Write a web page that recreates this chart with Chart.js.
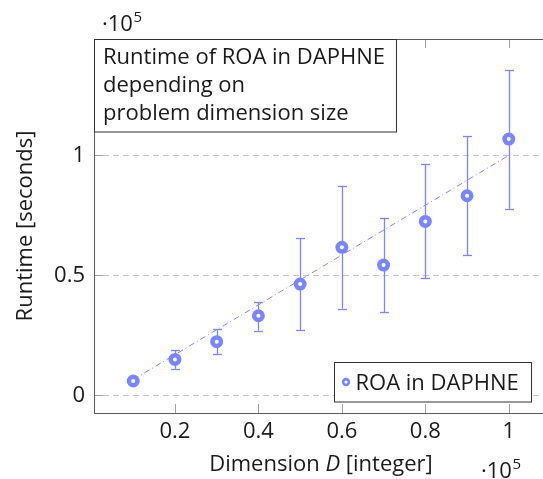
<!DOCTYPE html>
<html><head><meta charset="utf-8">
<script src="https://cdn.jsdelivr.net/npm/chart.js@4"></script>
<style>html,body{margin:0;padding:0;overflow:hidden;background:#fff;width:543px;height:479px}canvas{display:block}</style>
</head><body>
<canvas id="c" width="560" height="479"></canvas>
<script>
// ---- data (x in integer dimension, y in seconds) ----
const dimensions   = [10000, 20000, 30000, 40000, 50000, 60000, 70000, 80000, 90000, 100000];
const runtime      = [6000, 15000, 22400, 33200, 46400, 61700, 54300, 72500, 83200, 106800];
const runtimeLow   = [5500, 11100, 17250, 27000, 27200, 36200, 34700, 48750, 58500, 77800];
const runtimeHigh  = [6500, 18750, 27500, 38900, 65600, 87400, 74000, 96250, 107900, 135600];
const fitX = [10000, 100000];
const fitY = [6600, 100000];
const xTicks = [20000, 40000, 60000, 80000, 100000];
const yTicks = [0, 50000, 100000];
const seriesLabel = "ROA in DAPHNE";
const titleLines = ["Runtime of ROA in DAPHNE", "depending on", "problem dimension size"];
const xTitleParts = [["Dimension ", "normal"], ["D", "italic"], [" [integer]", "normal"]];
const yTitle = "Runtime [seconds]";

const BLUE = "rgb(122,134,255)";
const FONT = "'Open Sans'";
const FS = 22;

const deco = {
  id: "deco",
  beforeDatasetsDraw(chart) {
    const {ctx, chartArea: a, scales: {x, y}} = chart;
    ctx.save();
    ctx.lineWidth = 1;
    // dashed y grid
    ctx.strokeStyle = "#c4c4c4";
    ctx.setLineDash([6, 4]);
    yTicks.forEach(v => {
      const py = Math.round(y.getPixelForValue(v)) + 0.5;
      ctx.beginPath(); ctx.moveTo(a.left + 9, py); ctx.lineTo(a.right, py); ctx.stroke();
    });
    ctx.setLineDash([]);
    // tick marks
    ctx.strokeStyle = "#a0a0a0";
    yTicks.forEach(v => {
      const py = Math.round(y.getPixelForValue(v)) + 0.5;
      ctx.beginPath(); ctx.moveTo(a.left, py); ctx.lineTo(a.left + 9, py); ctx.stroke();
    });
    xTicks.forEach(v => {
      const px = Math.round(x.getPixelForValue(v)) + 0.5;
      ctx.beginPath(); ctx.moveTo(px, a.bottom); ctx.lineTo(px, a.bottom - 9); ctx.stroke();
      ctx.beginPath(); ctx.moveTo(px, a.top); ctx.lineTo(px, a.top + 9); ctx.stroke();
    });
    // frame
    ctx.strokeStyle = "#5a5a5a";
    ctx.strokeRect(a.left + 0.5, a.top + 0.5, a.right - a.left, a.bottom - a.top);
    // error bars
    ctx.strokeStyle = BLUE;
    ctx.lineWidth = 1.3;
    dimensions.forEach((d, i) => {
      const px = Math.round(x.getPixelForValue(d)) + 0.5;
      const yl = y.getPixelForValue(runtimeLow[i]);
      const yh = y.getPixelForValue(runtimeHigh[i]);
      ctx.beginPath(); ctx.moveTo(px, yl); ctx.lineTo(px, yh); ctx.stroke();
      ctx.beginPath(); ctx.moveTo(px - 4.5, Math.round(yl) + 0.5); ctx.lineTo(px + 4.5, Math.round(yl) + 0.5); ctx.stroke();
      ctx.beginPath(); ctx.moveTo(px - 4.5, Math.round(yh) + 0.5); ctx.lineTo(px + 4.5, Math.round(yh) + 0.5); ctx.stroke();
    });
    ctx.restore();
  },
  afterDraw(chart) {
    const {ctx, chartArea: a} = chart;
    ctx.save();
    ctx.textBaseline = "alphabetic";
    // title box
    ctx.fillStyle = "#fff";
    ctx.fillRect(a.left + 0.5, a.top + 0.5, 302, 92.5);
    ctx.strokeStyle = "#333"; ctx.lineWidth = 1;
    ctx.strokeRect(a.left + 0.5, a.top + 0.5, 302, 92.5);
    ctx.fillStyle = "#1a1a1a";
    ctx.font = FS + "px " + FONT;
    titleLines.forEach((t, i) => ctx.fillText(t, a.left + 9, 63.5 + i * 28.3));
    // legend box
    ctx.fillStyle = "#fff";
    ctx.fillRect(334.5, 362.5, 197, 39.5);
    ctx.strokeStyle = "#333";
    ctx.strokeRect(334.5, 362.5, 197, 39.5);
    ctx.beginPath(); ctx.arc(346, 382, 2.9, 0, Math.PI * 2);
    ctx.fillStyle = "#fff"; ctx.fill();
    ctx.lineWidth = 2.6; ctx.strokeStyle = BLUE; ctx.stroke();
    ctx.lineWidth = 1;
    ctx.fillStyle = "#1a1a1a";
    ctx.fillText(seriesLabel, 355.5, 389.5);
    // x title
    let total = 0;
    xTitleParts.forEach(([t, st]) => { ctx.font = (st === "italic" ? "italic " : "") + FS + "px " + FONT; total += ctx.measureText(t).width; });
    let cx = (a.left + a.right) / 2 - total / 2;
    xTitleParts.forEach(([t, st]) => { ctx.font = (st === "italic" ? "italic " : "") + FS + "px " + FONT; ctx.fillText(t, cx, 471); cx += ctx.measureText(t).width; });
    // multipliers
    function mult(xp, yp) {
      ctx.font = FS + "px " + FONT;
      ctx.fillText("\u00B710", xp, yp);
      const w = ctx.measureText("\u00B710").width;
      ctx.font = "15px " + FONT;
      ctx.fillText("5", xp + w + 0.5, yp - 8.5);
    }
    mult(102, 30.5);
    mult(481, 477.5);
    ctx.restore();
  }
};

new Chart(document.getElementById("c"), {
  type: "scatter",
  data: {
    datasets: [
      {
        label: "fit",
        data: fitX.map((v, i) => ({x: v, y: fitY[i]})),
        showLine: true,
        borderColor: BLUE,
        borderWidth: 1,
        borderDash: [6, 3, 1, 3],
        pointRadius: 0,
        order: 2
      },
      {
        label: seriesLabel,
        data: dimensions.map((v, i) => ({x: v, y: runtime[i]})),
        showLine: false,
        pointStyle: "circle",
        pointRadius: 4.25,
        pointBorderWidth: 4.5,
        pointBackgroundColor: "#fff",
        pointBorderColor: BLUE,
        order: 1
      }
    ]
  },
  options: {
    responsive: false,
    animation: false,
    events: [],
    layout: {padding: {left: 0, top: 39, right: 12, bottom: 0}},
    plugins: {legend: {display: false}, tooltip: {enabled: false}},
    scales: {
      x: {
        type: "linear",
        min: 600, max: 109400,
        grid: {display: false, drawTicks: false},
        border: {display: false},
        afterBuildTicks: s => { s.ticks = xTicks.map(v => ({value: v})); },
        afterFit: s => { s.height = 66; },
        ticks: {
          padding: 6,
          color: "#1a1a1a",
          font: {family: FONT, size: FS},
          maxRotation: 0,
          callback: v => String(+(v / 1e5).toFixed(2))
        }
      },
      y: {
        type: "linear",
        min: -7330, max: 148500,
        grid: {display: false, drawTicks: false},
        border: {display: false},
        afterBuildTicks: s => { s.ticks = yTicks.map(v => ({value: v})); },
        afterFit: s => { s.width = 94; },
        title: {display: true, text: yTitle, color: "#1a1a1a", font: {family: FONT, size: FS}, padding: {top: 13, bottom: 0}},
        ticks: {
          padding: 9,
          color: "#1a1a1a",
          font: {family: FONT, size: FS},
          callback: v => String(+(v / 1e5).toFixed(2))
        }
      }
    }
  },
  plugins: [deco]
});
</script>
</body></html>
